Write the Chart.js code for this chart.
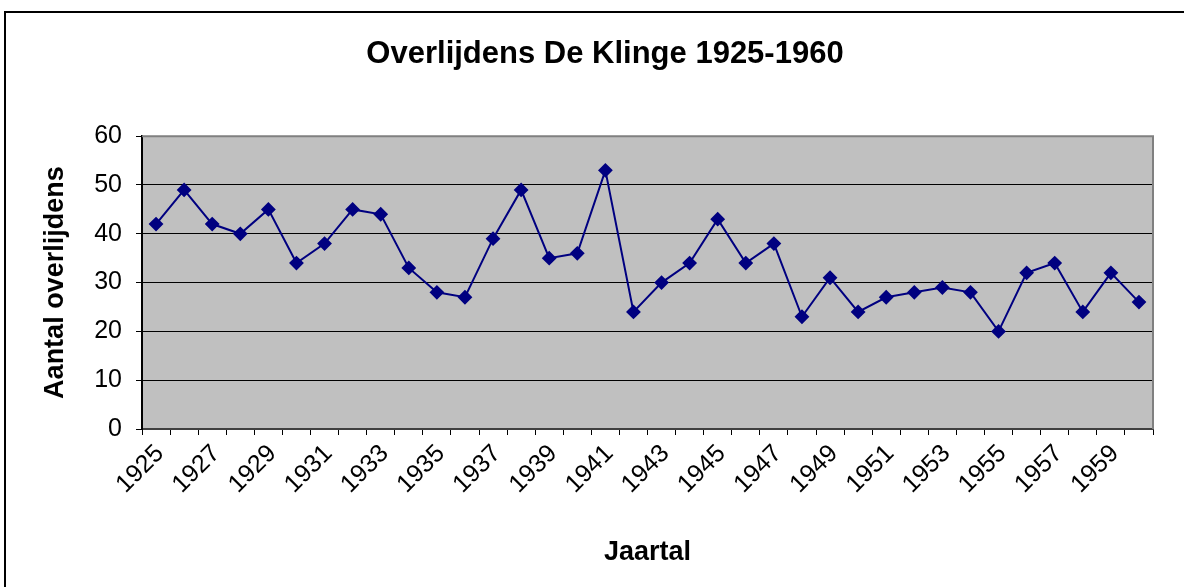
<!DOCTYPE html>
<html>
<head>
<meta charset="utf-8">
<title>Overlijdens De Klinge 1925-1960</title>
<style>
  html, body { margin: 0; padding: 0; background: #fff; }
  #wrap { width: 1184px; height: 587px; }
</style>
</head>
<body>
<div id="wrap"><canvas id="myChart" width="1184" height="587"></canvas></div>
<script src="https://cdn.jsdelivr.net/npm/chart.js@4/dist/chart.umd.min.js"></script>
<script>
// data
const years = ['1925','1926','1927','1928','1929','1930','1931','1932','1933','1934',
               '1935','1936','1937','1938','1939','1940','1941','1942','1943','1944',
               '1945','1946','1947','1948','1949','1950','1951','1952','1953','1954',
               '1955','1956','1957','1958','1959','1960']
const deaths = [42, 49, 42, 40, 45, 34, 38, 45, 44, 33,
                28, 27, 39, 49, 35, 36, 53, 24, 30, 34,
                43, 34, 38, 23, 31, 24, 27, 28, 29, 28,
                20, 32, 34, 24, 32, 26]

const font = 'Arial, "Liberation Sans", sans-serif'

// white page, outer frame, grey plot area
const excelLook = {
  id: 'excelLook',
  beforeDraw(chart) {
    const ctx = chart.ctx
    const a = chart.chartArea
    ctx.save()
    ctx.fillStyle = '#fff'
    ctx.fillRect(0, 0, chart.width, chart.height)
    ctx.strokeStyle = '#000'
    ctx.lineWidth = 2
    ctx.strokeRect(5, 12, 1300, 700)
    ctx.fillStyle = '#c0c0c0'
    ctx.fillRect(a.left, a.top, a.right - a.left, a.bottom - a.top)
    ctx.restore()
  },
  afterDatasetsDraw(chart) {
    const ctx = chart.ctx
    const a = chart.chartArea
    ctx.save()
    ctx.strokeStyle = '#808080'
    ctx.lineWidth = 2
    ctx.beginPath()
    ctx.moveTo(a.left, a.top)
    ctx.lineTo(a.right, a.top)
    ctx.lineTo(a.right, a.bottom)
    ctx.stroke()
    ctx.restore()
  }
}

let carte = document.getElementById('myChart')
let graph = new Chart(carte, {
  type: 'line',
  data: {
    labels: years,
    datasets: [{
      label: 'Overlijdens',
      data: deaths,
      borderColor: '#000080',
      backgroundColor: '#000080',
      borderWidth: 2,
      tension: 0,
      pointStyle: 'rectRot',
      pointRadius: 6,
      pointHoverRadius: 6,
      pointBackgroundColor: '#000080',
      pointBorderColor: '#000080',
      yAxisID: 'y'
    }]
  },
  options: {
    responsive: false,
    animation: false,
    layout: { padding: { left: 26, right: 0, top: 0, bottom: 0 } },
    plugins: {
      legend: { display: false },
      tooltip: { enabled: false },
      title: {
        display: true,
        text: 'Overlijdens De Klinge 1925-1960',
        color: '#000',
        font: { family: font, size: 31, weight: 'bold' },
        padding: { top: 36, bottom: 63 }
      }
    },
    scales: {
      x: {
        offset: true,
        grid: {
          offset: true,
          drawOnChartArea: false,
          drawTicks: true,
          tickLength: 6,
          color: '#000'
        },
        border: { display: true, color: '#404040', width: 2 },
        ticks: {
          autoSkip: false,
          minRotation: 45,
          maxRotation: 45,
          padding: 4,
          labelOffset: 4,
          color: '#000',
          font: { family: font, size: 25 },
          callback: function(value, index) {
            return index % 2 === 0 ? years[index] : ''
          }
        },
        title: {
          display: true,
          text: 'Jaartal',
          color: '#000',
          font: { family: font, size: 27, weight: 'bold' },
          padding: { top: 0, bottom: 18 }
        },
        afterFit: function(scale) { scale.height = 158 }
      },
      y: {
        position: 'left',
        min: 0,
        max: 60,
        grid: {
          color: '#000',
          lineWidth: 1,
          drawTicks: true,
          tickLength: 6
        },
        border: { display: true, color: '#000', width: 2 },
        ticks: {
          stepSize: 10,
          padding: 14,
          color: '#000',
          font: { family: font, size: 25 }
        },
        title: {
          display: true,
          text: 'Aantal overlijdens',
          color: '#000',
          font: { family: font, size: 27, weight: 'bold' },
          padding: { top: 13, bottom: 0 }
        },
        afterFit: function(scale) { scale.width = 116 }
      },
      y2: {
        position: 'right',
        display: true,
        grid: { drawOnChartArea: false, drawTicks: false },
        border: { display: false },
        ticks: { display: false },
        afterFit: function(scale) { scale.width = 31 }
      }
    }
  },
  plugins: [excelLook]
})
</script>
</body>
</html>
